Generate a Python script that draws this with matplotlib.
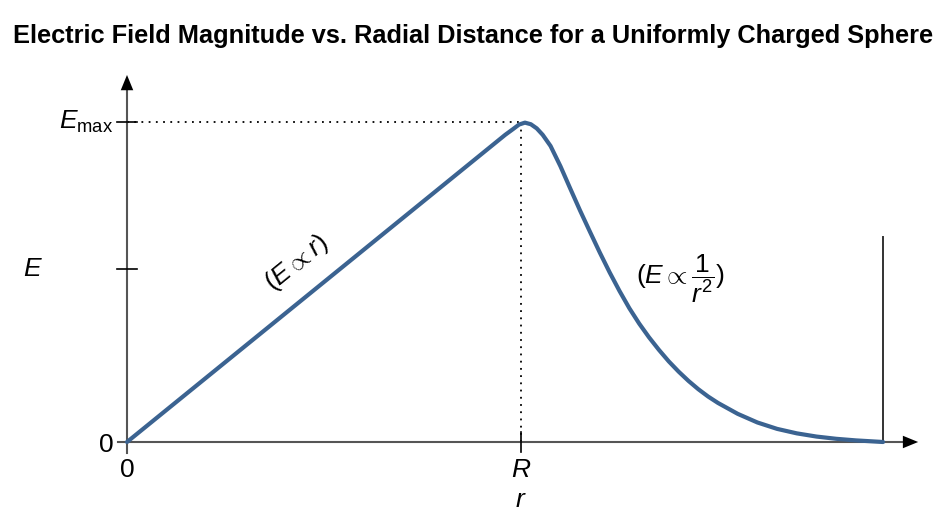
import numpy as np
import matplotlib.pyplot as plt

plt.rcParams['mathtext.fontset'] = 'custom'
plt.rcParams['mathtext.rm'] = 'Liberation Sans'
plt.rcParams['mathtext.it'] = 'Liberation Sans:italic'
plt.rcParams['font.family'] = ['Liberation Sans', 'DejaVu Sans']

# r in units of R, E in units of Emax
r_in = [0.0, 0.25, 0.5, 0.75, 0.96]
E_in = [0.0, 0.25, 0.5, 0.75, 0.96]
r_out = [0.98, 0.995, 1.01, 1.025, 1.04, 1.055, 1.075, 1.10, 1.125, 1.15, 1.175,
         1.20, 1.225, 1.25, 1.275, 1.30, 1.325, 1.35, 1.375, 1.40, 1.425, 1.45,
         1.475, 1.50, 1.55, 1.60, 1.65, 1.70, 1.75, 1.80, 1.85, 1.919]
E_out = [0.978, 0.992, 0.998, 0.993, 0.98, 0.96, 0.925, 0.862, 0.792, 0.723, 0.657,
         0.592, 0.530, 0.472, 0.418, 0.370, 0.327, 0.288, 0.252, 0.220, 0.191, 0.165,
         0.142, 0.122, 0.088, 0.061, 0.041, 0.027, 0.017, 0.010, 0.005, 0.0]
r_axis_end = 2.008
E_axis_end = 1.147
E_mid_tick = 0.54
r_edge = 1.919
E_edge = 0.64

fig = plt.figure(figsize=(9.5, 5.19), dpi=100)
ax = fig.add_axes([0, 0, 1, 1])
ax.set_xlim(-127 / 394, 823 / 394)
ax.set_ylim(-77 / 320, 442 / 320)
ax.axis('off')

axis_col = '#555555'
# axes
ax.plot([-0.023, r_axis_end - 0.03], [0, 0], color=axis_col, lw=1.5, zorder=2)
ax.plot([0, 0], [-0.035, E_axis_end - 0.04], color=axis_col, lw=1.5, zorder=2)
ax.annotate('', xy=(r_axis_end, 0), xytext=(r_axis_end - 0.05, 0),
            arrowprops=dict(arrowstyle='-|>,head_length=1.1,head_width=0.45',
                            color='black', lw=0, shrinkA=0, shrinkB=0))
ax.annotate('', xy=(0, E_axis_end), xytext=(0, E_axis_end - 0.07),
            arrowprops=dict(arrowstyle='-|>,head_length=1.1,head_width=0.45',
                            color='black', lw=0, shrinkA=0, shrinkB=0))

# ticks
for yv in [1.0, E_mid_tick]:
    ax.plot([-0.025, 0.025], [yv, yv], color='black', lw=1.2, zorder=3)
ax.plot([1.0, 1.0], [-0.03, 0.03], color='black', lw=1.2, zorder=3)

# dotted guides
ax.plot([0, 1], [1, 1], color='black', lw=1.3, ls=(0, (1, 3)), zorder=1)
ax.plot([1, 1], [0, 1], color='black', lw=1.3, ls=(0, (1, 3)), zorder=1)

# right edge line
ax.plot([r_edge, r_edge], [0, E_edge], color='#333333', lw=1.4, zorder=2)

# curve
ax.plot(r_in + r_out, E_in + E_out, color='#3b6391', lw=3, solid_capstyle='round',
        solid_joinstyle='round', zorder=4)

fs = 19
ax.text(-0.035, 1.0, r'$E_{\mathrm{max}}$', fontsize=fs, ha='right', va='center')
ax.text(-0.24, E_mid_tick, r'$E$', fontsize=fs, ha='center', va='center')
ax.text(-0.035, -0.008, '0', fontsize=fs, ha='right', va='center')
ax.text(0, -0.05, '0', fontsize=fs, ha='center', va='top')
ax.text(1.0, -0.05, r'$R$', fontsize=fs, ha='center', va='top')
ax.text(1.0, -0.145, r'$r$', fontsize=fs, ha='center', va='top')
ax.text(0.43, 0.56, r'$(E \propto r)$', fontsize=fs, ha='center', va='center',
        rotation=39, rotation_mode='anchor')
ax.text(1.405, 0.51, r'$(E \propto \dfrac{1}{r^2})$', fontsize=fs, ha='center', va='center')

fig.text(473 / 950, 1 - 36 / 519, 'Electric Field Magnitude vs. Radial Distance for a Uniformly Charged Sphere',
         fontsize=18.3, fontweight='bold', ha='center', va='center')

fig.savefig('out.png', dpi=100)
